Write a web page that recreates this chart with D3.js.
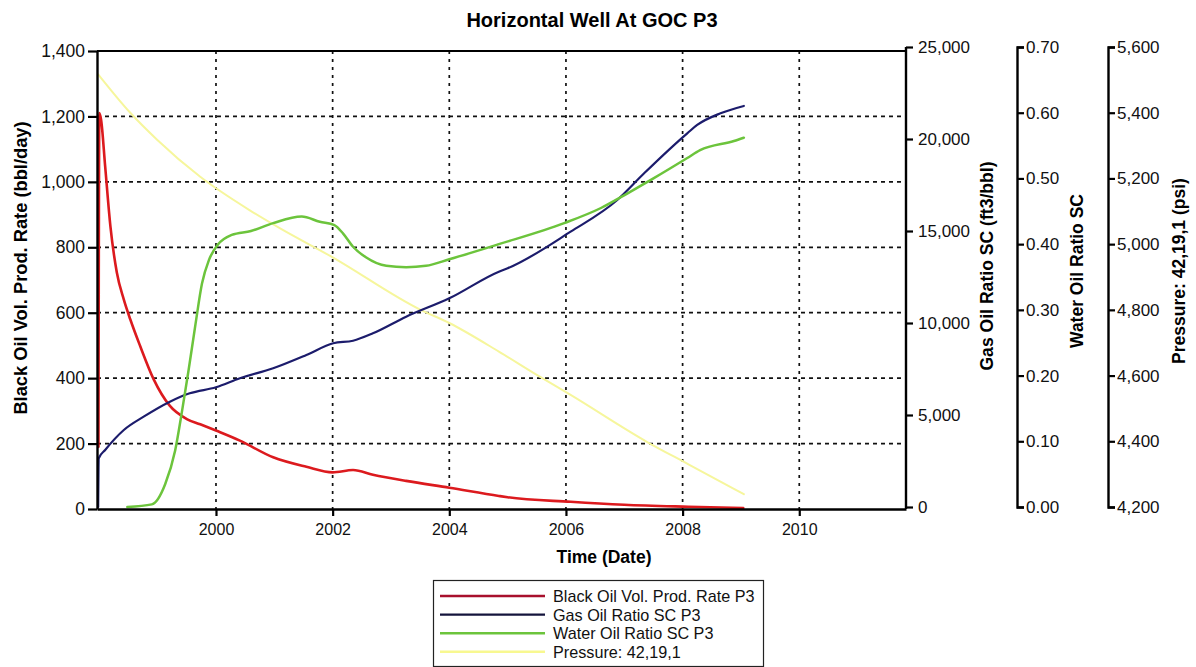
<!DOCTYPE html>
<html>
<head>
<meta charset="utf-8">
<script src="https://cdn.jsdelivr.net/npm/d3@7"></script>
<style>
  html, body { margin: 0; padding: 0; background: #fff; }
  svg { display: block; font-family: "Liberation Sans", Arial, sans-serif; }
</style>
</head>
<body>
<svg id="chart" width="1196" height="667"></svg>
<script>
// ---- Data (time in decimal years) ----
const oilTime = [1997.985, 1998.00, 1998.03, 1998.10, 1998.19, 1998.30, 1998.42, 1998.53, 1998.70, 1998.93, 1999.21, 1999.50, 1999.73, 2000.01, 2000.41, 2000.98, 2001.55, 2002.00, 2002.35, 2002.69, 2003.26, 2004.00, 2004.85, 2005.00, 2006.08, 2007.00, 2008.10, 2009.04];
const oilRate = [190, 1210, 1190, 1047, 864, 723, 640, 580, 498, 397, 315, 275, 259, 239, 209, 158, 129, 112, 119, 105, 86, 65, 40, 36, 22, 13, 7, 3];

const gorTime = [1997.98, 1997.99, 1998.10, 1998.42, 1998.76, 1999.21, 1999.55, 2000.00, 2000.41, 2000.98, 2001.55, 2002.01, 2002.35, 2002.69, 2003.26, 2004.00, 2004.85, 2005.00, 2006.08, 2006.88, 2007.34, 2008.08, 2008.25, 2008.65, 2009.05];
const gorValue = [0, 2650, 3100, 4185, 4908, 5723, 6180, 6505, 6995, 7538, 8261, 8897, 9038, 9440, 10343, 11343, 12789, 12973, 14963, 16685, 18136, 20310, 20762, 21397, 21794];

const worTime = [1998.48, 1998.90, 1999.13, 1999.30, 1999.42, 1999.53, 1999.65, 1999.76, 1999.88, 2000.03, 2000.27, 2000.60, 2000.98, 2001.47, 2001.78, 2002.03, 2002.18, 2002.35, 2002.57, 2002.92, 2003.26, 2003.60, 2004.00, 2004.85, 2005.97, 2006.60, 2007.05, 2007.50, 2008.08, 2008.30, 2008.88, 2009.05];
const worValue = [0.000, 0.004, 0.035, 0.086, 0.147, 0.208, 0.279, 0.340, 0.376, 0.399, 0.414, 0.420, 0.432, 0.442, 0.434, 0.429, 0.416, 0.396, 0.380, 0.367, 0.365, 0.367, 0.377, 0.400, 0.432, 0.455, 0.477, 0.500, 0.531, 0.543, 0.557, 0.562];

const presTime = [1997.98, 1998.53, 1998.99, 1999.73, 2000.58, 2001.10, 2002.00, 2003.50, 2004.00, 2004.85, 2005.50, 2006.08, 2007.40, 2008.10, 2009.05];
const presValue = [5517, 5400, 5318, 5205, 5103, 5048, 4960, 4801, 4760, 4673, 4602, 4541, 4397, 4330, 4239];

const xTicks = [2000, 2002, 2004, 2006, 2008, 2010];
const oilTicks = [0, 200, 400, 600, 800, 1000, 1200, 1400];
const gorTicks = [0, 5000, 10000, 15000, 20000, 25000];
const worTicks = [0, 0.1, 0.2, 0.3, 0.4, 0.5, 0.6, 0.7];
const presTicks = [4200, 4400, 4600, 4800, 5000, 5200, 5400, 5600];

const seriesNames = ["Black Oil Vol. Prod. Rate P3", "Gas Oil Ratio SC P3", "Water Oil Ratio SC P3", "Pressure: 42,19,1"];
const seriesColors = ["#dc1a1e", "#1c1c6c", "#6cc43c", "#f6f69c"];
const legendColors = ["#a8102c", "#14143c", "#6cc43c", "#f8f890"];

// ---- Layout ----
const svg = d3.select("#chart");
const L = 97, R = 906, T = 51, B = 509;

const x = d3.scaleLinear().domain([1997.96, 2011.83]).range([L, R]);
const yOil = d3.scaleLinear().domain([0, 1400]).range([B, T]);
const yGor = d3.scaleLinear().domain([0, 25000]).range([507, 47]);
const yWor = d3.scaleLinear().domain([0, 0.7]).range([507, 47]);
const yPres = d3.scaleLinear().domain([4200, 5600]).range([507, 47]);

// Title
svg.append("text").attr("x", 592).attr("y", 27).attr("text-anchor", "middle")
  .style("font-size", "20px").style("font-weight", "bold").text("Horizontal Well At GOC P3");

// Gridlines
const grid = svg.append("g");
grid.selectAll("line.h").data(oilTicks.filter(d => d > 0 && d < 1400)).join("line")
  .attr("x1", L).attr("x2", R).attr("y1", d => yOil(d)).attr("y2", d => yOil(d))
  .attr("stroke", "#111").attr("stroke-width", 1.7).attr("stroke-dasharray", "4,4");
grid.selectAll("line.v").data(xTicks).join("line")
  .attr("x1", d => x(d)).attr("x2", d => x(d)).attr("y1", T).attr("y2", B)
  .attr("stroke", "#111").attr("stroke-width", 1.7).attr("stroke-dasharray", "3,5");

// Top border
svg.append("line").attr("x1", L).attr("x2", R).attr("y1", T).attr("y2", T)
  .attr("stroke", "#000").attr("stroke-width", 2);

// Lines
const mk = (ys, times, vals) => d3.line().x((d, i) => x(times[i])).y((d, i) => ys(vals[i])).curve(d3.curveMonotoneX)(vals);
const lines = svg.append("g").attr("fill", "none").attr("stroke-linejoin", "round").attr("stroke-linecap", "round");
lines.append("path").attr("d", mk(yPres, presTime, presValue)).attr("stroke", seriesColors[3]).attr("stroke-width", 2);
lines.append("path").attr("d", mk(yOil, oilTime, oilRate)).attr("stroke", seriesColors[0]).attr("stroke-width", 2.6);
lines.append("path").attr("d", mk(yGor, gorTime, gorValue)).attr("stroke", seriesColors[1]).attr("stroke-width", 2.2);
lines.append("path").attr("d", mk(yWor, worTime, worValue)).attr("stroke", seriesColors[2]).attr("stroke-width", 2.5);

// Axis styling helper
function styleAxis(g, fs) {
  g.select(".domain").attr("stroke", "#000").attr("stroke-width", 2.4);
  g.selectAll(".tick line").attr("stroke", "#000").attr("stroke-width", 2.2);
  g.selectAll(".tick text").style("font-size", fs).attr("fill", "#111")
    .style("font-family", "'Liberation Sans', Arial, sans-serif");
}

// Left axis
const gL = svg.append("g").attr("transform", `translate(${L},0)`)
  .call(d3.axisLeft(yOil).tickValues(oilTicks).tickFormat(d3.format(",")).tickSize(9).tickSizeOuter(0).tickPadding(3));
styleAxis(gL, "17.5px");

// Bottom axis
const gB = svg.append("g").attr("transform", `translate(0,${B})`)
  .call(d3.axisBottom(x).tickValues(xTicks).tickFormat(d3.format("d")).tickSize(7).tickSizeOuter(0).tickPadding(8));
styleAxis(gB, "16px");

// GOR axis
const gG = svg.append("g").attr("transform", `translate(${R},0)`)
  .call(d3.axisRight(yGor).tickValues(gorTicks).tickFormat(d3.format(",")).tickSize(7).tickSizeOuter(0).tickPadding(5));
styleAxis(gG, "17px");
gG.select(".domain").attr("d", `M0,${B}V${yGor(25000)}`);

// WOR axis
const gW = svg.append("g").attr("transform", "translate(1017,0)")
  .call(d3.axisRight(yWor).tickValues(worTicks).tickFormat(d3.format(".2f")).tickSize(7).tickSizeOuter(7).tickPadding(2));
styleAxis(gW, "17px");

// Pressure axis
const gP = svg.append("g").attr("transform", "translate(1108,0)")
  .call(d3.axisRight(yPres).tickValues(presTicks).tickFormat(d3.format(",")).tickSize(7).tickSizeOuter(7).tickPadding(2));
styleAxis(gP, "17px");

// Axis titles
const axTitle = (tx, ty, rot, txt, fs) => svg.append("text")
  .attr("transform", `translate(${tx},${ty}) rotate(${rot})`).attr("text-anchor", "middle")
  .attr("dominant-baseline", "central").style("font-size", fs).style("font-weight", "bold").text(txt);
axTitle(20, 268, -90, "Black Oil Vol. Prod. Rate (bbl/day)", "18.3px");
axTitle(987, 266, -90, "Gas Oil Ratio SC (ft3/bbl)", "17.6px");
axTitle(1077, 271, -90, "Water Oil Ratio SC", "17.5px");
axTitle(1179, 271, -90, "Pressure: 42,19,1 (psi)", "17.5px");
axTitle(604, 557, 0, "Time (Date)", "17.5px");

// Legend
const lg = svg.append("g");
lg.append("rect").attr("x", 433.5).attr("y", 580.5).attr("width", 330).attr("height", 86)
  .attr("fill", "#fff").attr("stroke", "#222").attr("stroke-width", 1.2);
const rows = lg.selectAll("g.row").data(seriesNames).join("g")
  .attr("transform", (d, i) => `translate(0,${596 + i * 18.6})`);
rows.append("line").attr("x1", 440).attr("x2", 545).attr("y1", 0).attr("y2", 0)
  .attr("stroke", (d, i) => legendColors[i]).attr("stroke-width", 2.4);
rows.append("text").attr("x", 553).attr("y", 0).attr("dominant-baseline", "central")
  .style("font-size", "16.2px").attr("fill", "#111").text(d => d);
</script>
</body>
</html>
